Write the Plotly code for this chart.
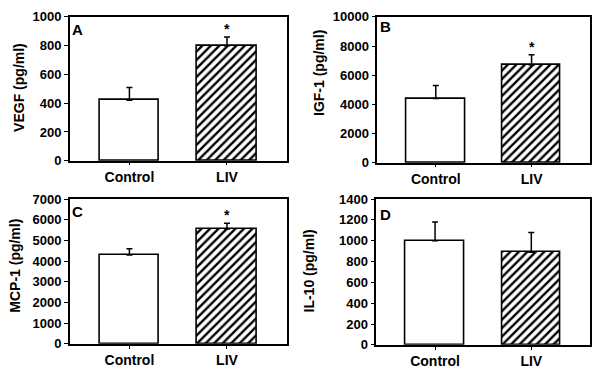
import plotly.graph_objects as go

categories = ["Control", "LIV"]
panel_letters = ["A", "B", "C", "D"]
y_titles = ["VEGF (pg/ml)", "IGF-1 (pg/ml)", "MCP-1 (pg/ml)", "IL-10 (pg/ml)"]

vegf_mean = [420, 800]
vegf_err = [90, 60]
igf_mean = [4400, 6700]
igf_err = [900, 700]
mcp_mean = [4300, 5550]
mcp_err = [300, 280]
il10_mean = [1000, 890]
il10_err = [180, 190]

significant = [[False, True], [False, True], [False, True], [False, False]]

vegf_ticks = [0, 200, 400, 600, 800, 1000]
igf_ticks = [0, 2000, 4000, 6000, 8000, 10000]
mcp_ticks = [0, 1000, 2000, 3000, 4000, 5000, 6000, 7000]
il10_ticks = [0, 200, 400, 600, 800, 1000, 1200, 1400]

means = [vegf_mean, igf_mean, mcp_mean, il10_mean]
errs = [vegf_err, igf_err, mcp_err, il10_err]
yticks = [vegf_ticks, igf_ticks, mcp_ticks, il10_ticks]

OFF = 8  # page body margin
PAGE_W, PAGE_H = 600, 380
W, H = PAGE_W - 2 * OFF, PAGE_H - 2 * OFF
# pixel boxes in page coords (left, right, top, bottom)
boxes = [(70, 287, 10, 160), (378, 591, 10, 162), (70, 287, 200, 351), (377, 591, 200, 352)]
letter_pos = [(78, 23), (386, 20), (77.5, 213), (386, 216)]
title_pos = [(19, 83), (319, 68), (15.5, 269), (310, 275)]


def px(v):
    return (v - OFF) / W


def py(v):
    return 1 - (v - OFF) / H


FONT = "Liberation Sans, Arial, sans-serif"
fig = go.Figure()
layout = dict(
    width=W, height=H, margin=dict(l=0, r=0, t=0, b=0),
    paper_bgcolor="white", plot_bgcolor="white", showlegend=False,
    font=dict(family=FONT, color="black"),
    bargap=0,
)
annotations = []
xs = [0, 1]
for i in range(4):
    n = "" if i == 0 else str(i + 1)
    xa, ya = "x" + n, "y" + n
    l, r, t, b = boxes[i]
    fig.add_trace(go.Bar(
        x=xs, y=means[i], width=0.61, xaxis=xa, yaxis=ya,
        marker=dict(
            color="white",
            line=dict(color="black", width=1.6),
            pattern=dict(shape=["", "/"], size=6, solidity=0.4,
                         fgcolor="black", fgopacity=1, fillmode="overlay"),
        ),
        error_y=dict(type="data", array=errs[i], arrayminus=[0, 0], symmetric=False,
                     color="black", thickness=1.5, width=3),
        hoverinfo="skip",
    ))
    axis_common = dict(showline=True, linecolor="black", linewidth=1.5, mirror=True,
                       showgrid=False, zeroline=False)
    layout["xaxis" + n] = dict(
        axis_common, domain=[px(l), px(r)], anchor=ya, range=[-0.61, 1.61],
        tickmode="array", tickvals=xs, ticktext=categories, ticks="outside",
        ticklen=3, tickwidth=1, tickcolor="black",
        tickfont=dict(size=14, family=FONT, color="black", weight="bold"),
    )
    layout["yaxis" + n] = dict(
        axis_common, domain=[py(b), py(t)], anchor=xa,
        range=[yticks[i][0], yticks[i][-1]],
        tickmode="array", tickvals=yticks[i], ticktext=[str(v) for v in yticks[i]],
        ticks="outside", ticklen=4, tickwidth=1, tickcolor="black",
        tickfont=dict(size=13, family=FONT, color="black", weight="bold"),
    )
    lx, ly = letter_pos[i]
    annotations.append(dict(
        text=panel_letters[i], x=px(lx), y=py(ly), xref="paper", yref="paper",
        xanchor="center", yanchor="middle", showarrow=False,
        font=dict(size=15, family=FONT, color="black", weight="bold"),
    ))
    tx, ty = title_pos[i]
    annotations.append(dict(
        text=y_titles[i], x=px(tx), y=py(ty), xref="paper", yref="paper",
        xanchor="center", yanchor="middle", textangle=-90, showarrow=False,
        font=dict(size=14, family=FONT, color="black", weight="bold"),
    ))
    for j in range(2):
        if significant[i][j]:
            annotations.append(dict(
                text="*", x=xs[j], y=means[i][j] + errs[i][j], xref=xa, yref=ya,
                xanchor="center", yanchor="bottom", yshift=-2, showarrow=False,
                font=dict(size=14, family=FONT, color="black", weight="bold"),
            ))
layout["annotations"] = annotations
fig.update_layout(**layout)
fig.write_html("out.html")
